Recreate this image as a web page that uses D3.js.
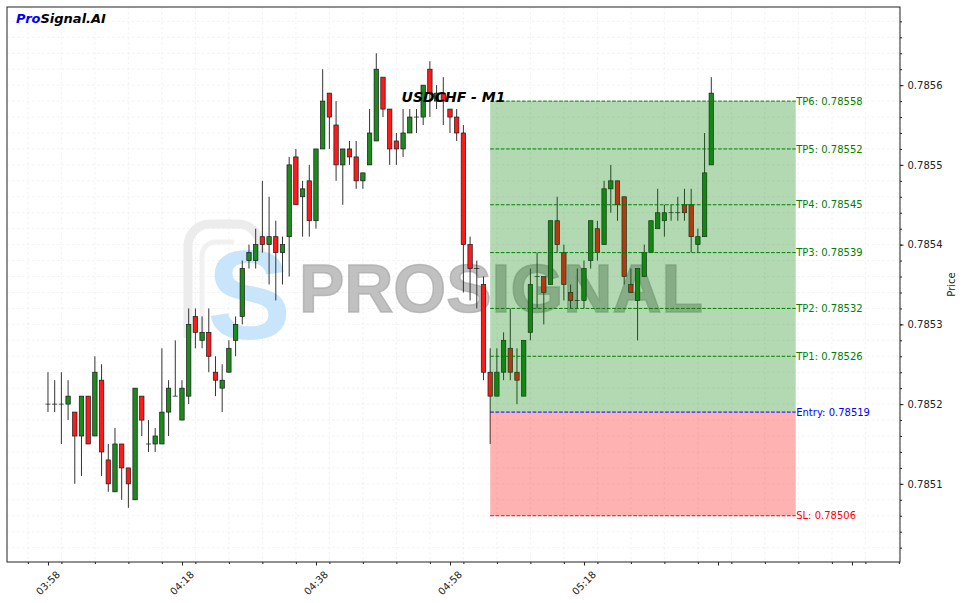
<!DOCTYPE html>
<html><head><meta charset="utf-8">
<script src="https://cdn.jsdelivr.net/npm/d3@7"></script>
<style>body{margin:0;background:#fff}svg{display:block}text{font-family:"DejaVu Sans",sans-serif}</style>
</head><body><svg id="c" width="963" height="603"></svg>
<script>
// ---- data ----
const startTime = "03:58";
const openP = [0.78520,0.78520,0.78520,0.78520,0.78519,0.78516,0.78521,0.78516,0.78523,0.78513,
0.78509,0.78515,0.78512,0.78508,0.78521,0.78515,0.78515,0.78515,0.78519,0.78521,
0.78518,0.78521,0.78531,0.78528,0.78529,0.78524,0.78522,0.78524,0.78528,0.78531,
0.78538,0.78538,0.78541,0.78540,0.78541,0.78539,0.78541,0.78551,0.78546,0.78548,
0.78543,0.78552,0.78559,0.78555,0.78550,0.78552,0.78551,0.78548,0.78550,0.78553,
0.78561,0.78557,0.78553,0.78552,0.78554,0.78556,0.78556,0.78562,0.78558,0.78559,
0.78557,0.78556,0.78554,0.78540,0.78537,0.78535,0.78524,0.78521,0.78524,0.78527,
0.78524,0.78521,0.78529,0.78536,0.78536,0.78535,0.78543,0.78539,0.78534,0.78533,
0.78533,0.78538,0.78542,0.78540,0.78547,0.78548,0.78546,0.78535,0.78533,0.78536,
0.78539,0.78542,0.78543,0.78544,0.78544,0.78545,0.78545,0.78540,0.78541,0.78550];
const highP = [0.78524,0.78523,0.78524,0.78523,0.78519,0.78521,0.78521,0.78526,0.78525,0.78515,
0.78517,0.78515,0.78512,0.78522,0.78521,0.78518,0.78517,0.78527,0.78523,0.78528,
0.78523,0.78532,0.78532,0.78531,0.78532,0.78526,0.78525,0.78528,0.78531,0.78538,
0.78540,0.78542,0.78548,0.78546,0.78543,0.78541,0.78551,0.78552,0.78548,0.78550,
0.78552,0.78562,0.78559,0.78558,0.78552,0.78553,0.78553,0.78549,0.78557,0.78564,
0.78561,0.78557,0.78554,0.78557,0.78557,0.78557,0.78560,0.78563,0.78560,0.78561,
0.78557,0.78557,0.78555,0.78541,0.78538,0.78536,0.78527,0.78527,0.78529,0.78532,
0.78527,0.78528,0.78537,0.78539,0.78536,0.78543,0.78546,0.78540,0.78535,0.78537,
0.78538,0.78543,0.78543,0.78548,0.78550,0.78548,0.78546,0.78537,0.78537,0.78540,
0.78543,0.78547,0.78545,0.78545,0.78546,0.78547,0.78547,0.78542,0.78554,0.78561];
const lowP = [0.78519,0.78519,0.78515,0.78518,0.78510,0.78511,0.78515,0.78516,0.78511,0.78509,
0.78509,0.78508,0.78507,0.78508,0.78516,0.78514,0.78514,0.78515,0.78516,0.78521,
0.78518,0.78520,0.78527,0.78527,0.78524,0.78521,0.78519,0.78524,0.78526,0.78530,
0.78537,0.78537,0.78539,0.78535,0.78533,0.78535,0.78536,0.78545,0.78541,0.78541,
0.78542,0.78552,0.78552,0.78548,0.78545,0.78550,0.78547,0.78547,0.78550,0.78553,
0.78556,0.78550,0.78550,0.78551,0.78554,0.78554,0.78555,0.78556,0.78557,0.78555,
0.78554,0.78553,0.78534,0.78533,0.78532,0.78523,0.78515,0.78521,0.78523,0.78523,
0.78520,0.78521,0.78528,0.78532,0.78530,0.78535,0.78539,0.78533,0.78532,0.78532,
0.78532,0.78537,0.78538,0.78540,0.78544,0.78543,0.78535,0.78534,0.78528,0.78536,
0.78539,0.78542,0.78541,0.78543,0.78543,0.78543,0.78539,0.78539,0.78541,0.78550];
const closeP = [0.78520,0.78520,0.78520,0.78521,0.78516,0.78521,0.78515,0.78524,0.78514,0.78510,
0.78515,0.78512,0.78510,0.78522,0.78518,0.78515,0.78516,0.78519,0.78522,0.78521,
0.78522,0.78530,0.78529,0.78529,0.78526,0.78523,0.78523,0.78527,0.78530,0.78537,
0.78539,0.78540,0.78540,0.78541,0.78539,0.78540,0.78550,0.78545,0.78547,0.78543,
0.78552,0.78558,0.78556,0.78550,0.78552,0.78551,0.78548,0.78549,0.78554,0.78562,
0.78557,0.78552,0.78552,0.78554,0.78556,0.78556,0.78560,0.78559,0.78559,0.78558,
0.78556,0.78554,0.78540,0.78537,0.78537,0.78524,0.78521,0.78524,0.78528,0.78524,
0.78523,0.78528,0.78535,0.78536,0.78534,0.78543,0.78540,0.78535,0.78533,0.78533,
0.78537,0.78543,0.78539,0.78547,0.78548,0.78545,0.78536,0.78534,0.78537,0.78539,
0.78543,0.78544,0.78544,0.78544,0.78544,0.78544,0.78541,0.78541,0.78549,0.78559];
const tpLevels = [0.78558,0.78552,0.78545,0.78539,0.78532,0.78526];
const tpNames = ["TP6","TP5","TP4","TP3","TP2","TP1"];
const entryPrice = 0.78519;
const slPrice = 0.78506;
const zoneStart = "05:04:00";
const zoneEnd = "05:49:36";
const yTickValues = [0.7851,0.7852,0.7853,0.7854,0.7855,0.7856];
const xTickLabels = ["03:58","04:18","04:38","04:58","05:18","05:38","05:58"];
const xTickShown = ["03:58","04:18","04:38","04:58","05:18"];
const title = "USDCHF - M1";

// ---- helpers ----
const day = (s) => { const [h,m,sec] = s.split(":").map(Number); return new Date(2024,0,1,h,m,sec||0); };
const t0 = day(startTime);
const times = openP.map((_, i) => new Date(t0.getTime() + i*60000));
const candles = times.map((t,i)=>({t, o:openP[i], h:highP[i], l:lowP[i], c:closeP[i]}));

const L = 7, R = 900, T = 7, B = 562;
const svg = d3.select("#c");
svg.append("rect").attr("width",963).attr("height",603).attr("fill","#fff");

const x = d3.scaleTime().domain([day("03:51:53"), day("06:05:10")]).range([L, R]);
const y = d3.scaleLinear().domain([0.785002, 0.785698]).range([B, T]);

// grid
const minorX = d3.timeMinute.every(5).range(day("03:50"), day("06:06"));
const minorY = d3.range(0, 35).map(k => 0.78502 + k*0.00002).filter(v => v < 0.78570);
svg.append("defs").append("clipPath").attr("id","clip").append("rect")
  .attr("x",L).attr("y",T).attr("width",R-L).attr("height",B-T);
const plot = svg.append("g").attr("clip-path","url(#clip)");
const grid = plot.append("g").attr("stroke","#ececec").attr("stroke-width",0.7).attr("stroke-dasharray","2.5,2.5");
grid.selectAll("line.gx").data(minorX).join("line").attr("x1",d=>x(d)).attr("x2",d=>x(d)).attr("y1",T).attr("y2",B);
grid.selectAll("line.gy").data(minorY).join("line").attr("y1",d=>y(d)).attr("y2",d=>y(d)).attr("x1",L).attr("x2",R);

// watermark
const wm = plot.append("g");
wm.append("path").attr("d","M188,338 V246 A22,22 0 0 1 210,224 H238 A22,22 0 0 1 260,246 V262")
  .attr("fill","none").attr("stroke","#ececec").attr("stroke-width",9);
wm.append("path").attr("d","M202,338 V256 A14,14 0 0 1 216,242 H234")
  .attr("fill","none").attr("stroke","#f1f1f1").attr("stroke-width",5);
wm.append("text").attr("x",249).attr("y",339).attr("text-anchor","middle")
  .style("font-family","'Liberation Sans',Arial,sans-serif").style("font-weight","900").style("font-size","126px")
  .attr("fill","#c9e5fb").text("S");
wm.append("text").attr("x",501).attr("y",312).attr("text-anchor","middle")
  .style("font-family","'Liberation Sans',Arial,sans-serif").style("font-weight","bold").style("font-size","68px")
  .attr("fill","#a9a9a9").attr("fill-opacity",0.72).attr("stroke","#a9a9a9").attr("stroke-opacity",0.72).attr("stroke-width",1.5)
  .text("PROSIGNAL");

// candles
const bw = 4.4;
const cg = plot.append("g");
cg.selectAll("line.wick").data(candles).join("line")
  .attr("x1",d=>x(d.t)).attr("x2",d=>x(d.t)).attr("y1",d=>y(d.h)).attr("y2",d=>y(d.l))
  .attr("stroke","#333").attr("stroke-width",1);
cg.selectAll("rect.body").data(candles).join("rect")
  .attr("x",d=>x(d.t)-bw/2).attr("width",bw)
  .attr("y",d=>y(Math.max(d.o,d.c))).attr("height",d=>Math.max(0.01, Math.abs(y(d.o)-y(d.c))))
  .attr("fill",d=>d.c>d.o?"#1c8a1c":(d.c<d.o?"#ff1a1a":"#333"))
  .attr("stroke","#1a1a1a").attr("stroke-width",0.7);

// zones
const zx0 = x(day(zoneStart)), zx1 = x(day(zoneEnd));
plot.append("rect").attr("x",zx0).attr("width",zx1-zx0).attr("y",y(tpLevels[0])).attr("height",y(entryPrice)-y(tpLevels[0]))
  .attr("fill","green").attr("fill-opacity",0.3);
plot.append("rect").attr("x",zx0).attr("width",zx1-zx0).attr("y",y(entryPrice)).attr("height",y(slPrice)-y(entryPrice))
  .attr("fill","red").attr("fill-opacity",0.3);

// level lines + labels
const levels = tpLevels.map((p,i)=>({p, label:`${tpNames[i]}: ${p.toFixed(5)}`, color:"green"}))
  .concat([{p:entryPrice,label:`Entry: ${entryPrice.toFixed(5)}`,color:"blue"},{p:slPrice,label:`SL: ${slPrice.toFixed(5)}`,color:"red"}]);
const lg = svg.append("g");
lg.selectAll("line").data(levels).join("line")
  .attr("x1",zx0).attr("x2",zx1).attr("y1",d=>y(d.p)).attr("y2",d=>y(d.p))
  .attr("stroke",d=>d.color).attr("stroke-width",1).attr("stroke-dasharray","3.7,1.6");
lg.selectAll("text").data(levels).join("text")
  .attr("x",zx1+0.5).attr("y",d=>y(d.p)).attr("dy","0.36em")
  .attr("fill",d=>d.color).style("font-size","10px").text(d=>d.label);

// title
svg.append("text").attr("x",(L+R)/2).attr("y",102).attr("text-anchor","middle")
  .style("font-size","14px").style("font-weight","bold").style("font-style","italic").attr("fill","#000").text(title);

// brand
const br = svg.append("text").attr("x",16).attr("y",23).style("font-size","13px").style("font-weight","bold").style("font-style","italic");
br.append("tspan").attr("fill","#0000ff").text("Pro");
br.append("tspan").attr("fill","#000").text("Signal.AI");

// frame
svg.append("rect").attr("x",L).attr("y",T).attr("width",R-L).attr("height",B-T).attr("fill","none").attr("stroke","#222").attr("stroke-width",1);

// x axis
const xMajor = xTickLabels.map(day);
const xa = svg.append("g").attr("transform",`translate(0,${B})`);
xa.call(d3.axisBottom(x).tickValues(minorX.filter(d=>d>=x.domain()[0]&&d<=x.domain()[1])).tickSize(2).tickFormat(""))
  .call(g=>g.select(".domain").remove());
const xa2 = svg.append("g").attr("transform",`translate(0,${B})`);
xa2.call(d3.axisBottom(x).tickValues(xMajor).tickSize(3.5).tickFormat(""))
  .call(g=>g.select(".domain").remove());
svg.append("g").selectAll("text").data(xTickShown.map(day)).join("text")
  .attr("transform",d=>`translate(${x(d)},583) rotate(-45)`).attr("text-anchor","middle").attr("dy","0.35em")
  .style("font-size","10px").attr("fill","#222").text(d3.timeFormat("%H:%M"));

// y axis
const ya = svg.append("g").attr("transform",`translate(${R},0)`);
ya.call(d3.axisRight(y).tickValues(minorY.filter(v=>v>y.domain()[0]&&v<y.domain()[1])).tickSize(2).tickFormat(""))
  .call(g=>g.select(".domain").remove());
const ya2 = svg.append("g").attr("transform",`translate(${R},0)`);
ya2.call(d3.axisRight(y).tickValues(yTickValues).tickSize(3.5).tickPadding(4).tickFormat(d3.format(".4f")))
  .call(g=>g.select(".domain").remove())
  .call(g=>g.selectAll("text").style("font-size","10px").style("font-family","'DejaVu Sans',sans-serif").attr("fill","#222"));
svg.selectAll(".tick line").attr("stroke","#222");
svg.append("text").attr("transform",`translate(955,${(T+B)/2}) rotate(-90)`).attr("text-anchor","middle")
  .style("font-size","10px").attr("fill","#222").text("Price");
</script></body></html>
